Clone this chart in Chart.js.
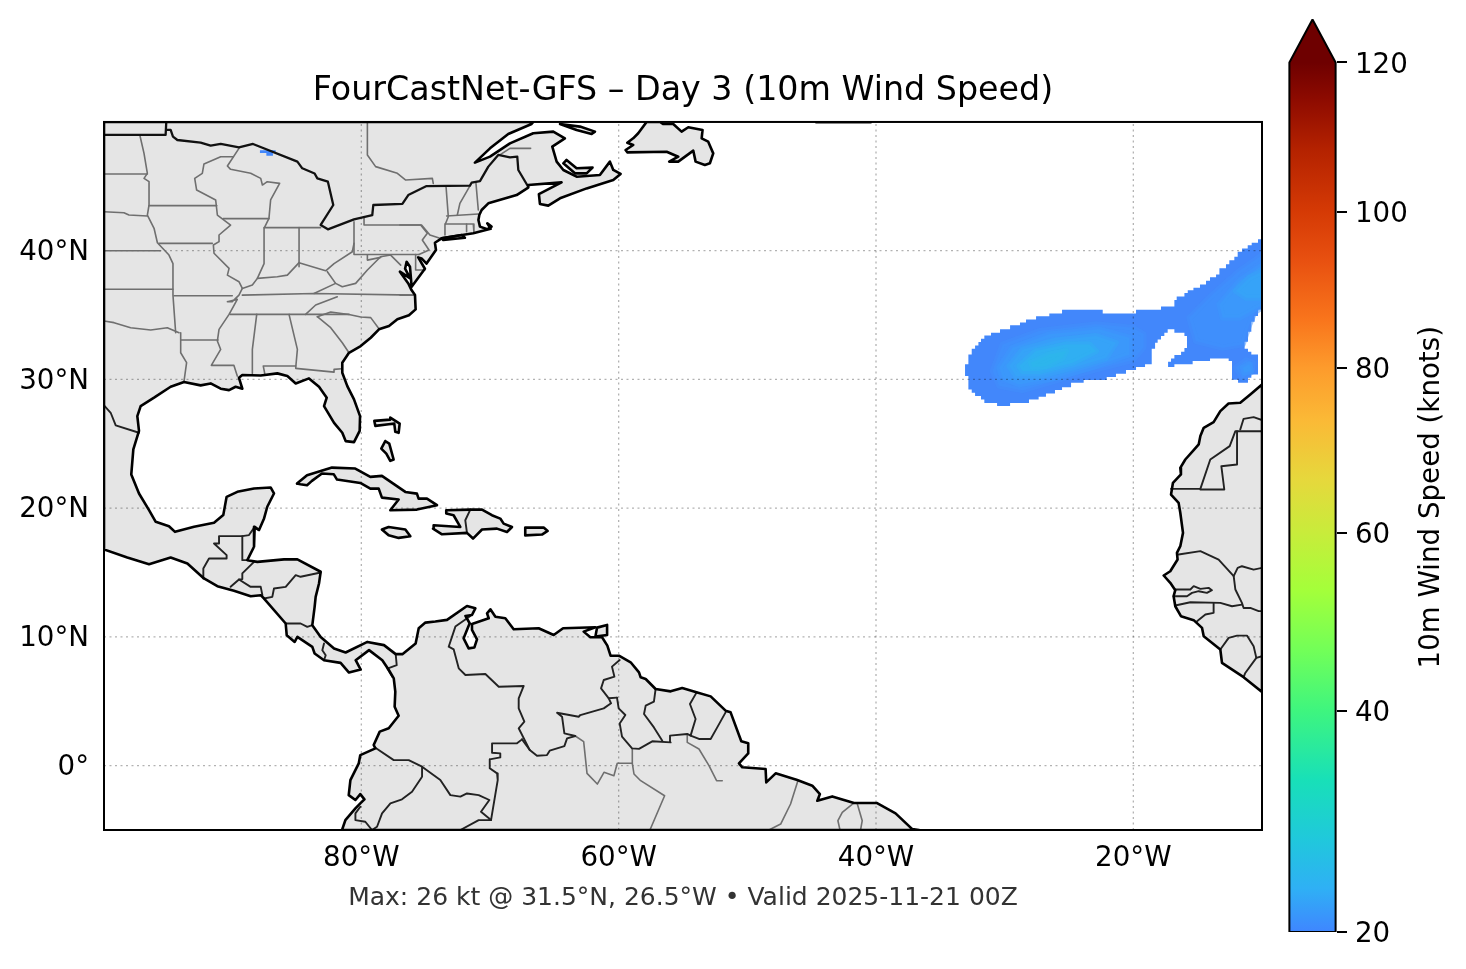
<!DOCTYPE html>
<html>
<head>
<meta charset="utf-8">
<title>FourCastNet-GFS</title>
<script src="https://cdn.jsdelivr.net/npm/chart.js@4"></script>
<style>
	html, body { margin: 0; padding: 0; background: #fff; overflow: hidden; }
	#map { position: absolute; left: 0; top: 0; }
	#bar { position: absolute; left: 1280px; top: 0; }
</style>
</head>
<body>
<canvas id="map" width="1466" height="969"></canvas>
<canvas id="bar" width="186" height="969"></canvas>
<script>
var lonTicks = [-80, -60, -40, -20];
var latTicks = [0, 10, 20, 30, 40];

// colorbar ticks, position is the fraction of the way up the bar
var barLabels = [20, 40, 60, 80, 100, 120];
var barTickPos = [0, 0.2543, 0.4589, 0.649, 0.8285, 1];
var barApex = 1.0495;
var barOutline = [[0, 0], [0, 1], [0.5, barApex], [1, 1], [1, 0], [0, 0]];
var barStopPos = [0, 0.05, 0.106, 0.175, 0.254, 0.324, 0.393, 0.459, 0.52, 0.589, 0.649, 0.704, 0.773, 0.8285, 0.9, 0.957, 1];
var barStopColors = ['#3f86ff', '#2fb0f5', '#20c8dc', '#18e0b8', '#3ef57f', '#72ff58', '#a4ff3a', '#c8ec3b', '#e6d83c', '#fbb936', '#fd9b2c', '#f9751c', '#e85010', '#d53a05', '#b42200', '#8e0b00', '#6e0000'];

// land, [lon, lat]
var americas = [
	[-100, 50], [-66.64, 50], [-66.77, 49.84], [-68.58, 49.07], [-70.0, 47.95], [-71.17, 46.84], [-70.0, 47.31], [-68.45, 48.34],
	[-66.64, 49.12], [-65.08, 49.25], [-64.18, 48.73], [-65.16, 48.08], [-64.82, 46.92], [-64.3, 46.27], [-63.27, 45.75], [-61.46, 45.88],
	[-60.68, 46.92], [-60.42, 46.27], [-59.85, 45.96], [-60.42, 45.49], [-62.49, 44.84], [-64.56, 44.07], [-65.47, 43.5], [-66.12, 43.63],
	[-66.2, 44.4], [-64.44, 45.31], [-67.03, 45.1], [-67.03, 44.9], [-67.93, 44.32], [-70.13, 43.68], [-70.65, 43.16], [-70.83, 42.77],
	[-70.9, 42.38], [-70.78, 41.87], [-70.21, 41.66], [-69.88, 41.87], [-70.21, 42.12], [-69.95, 41.7], [-71.3, 41.35], [-73.76, 40.96],
	[-74.28, 40.62], [-74.2, 40.05], [-74.93, 39.0], [-75.32, 39.4], [-75.58, 39.48], [-75.06, 38.6], [-76.09, 37.2], [-76.22, 38.76],
	[-76.48, 39.14], [-76.6, 38.6], [-76.2, 37.85], [-77, 38.37], [-76.35, 37.46], [-76.1, 36.94], [-75.83, 36.55], [-75.78, 35.44],
	[-76.3, 34.98], [-77.2, 34.67], [-77.85, 34.15], [-78.63, 33.89], [-79.27, 33.24], [-80.05, 32.59], [-80.96, 32.07], [-81.48, 31.3],
	[-81.48, 30.52], [-81.09, 29.48], [-80.57, 28.45], [-80.1, 27.15], [-80.13, 26.0], [-80.57, 25.13], [-81.22, 25.21], [-81.48, 25.86],
	[-82.12, 26.63], [-82.9, 27.93], [-82.69, 28.58], [-83.29, 29.43], [-84.07, 30.08], [-85.1, 29.69], [-85.75, 30.26], [-86.53, 30.47],
	[-87.82, 30.31], [-89.25, 30.34], [-89.51, 30.13], [-89.25, 29.28], [-89.77, 29.43], [-90.28, 29.17], [-90.93, 29.28], [-91.71, 29.69],
	[-92.49, 29.54], [-93.78, 29.8], [-94.82, 29.43], [-96.11, 28.58], [-97.15, 27.93], [-97.41, 27.15], [-97.28, 26.0], [-97.72, 24.56],
	[-97.88, 22.62], [-97.28, 21.14], [-96.5, 19.85], [-95.98, 18.94], [-94.95, 18.6], [-94.48, 18.16], [-93.0, 18.55], [-91.45, 18.86],
	[-90.73, 19.46], [-90.47, 20.88], [-89.64, 21.27], [-88.34, 21.53], [-87.05, 21.61], [-86.79, 21.14], [-87.31, 20.11], [-87.56, 19.2],
	[-87.95, 18.3], [-88.29, 18.55], [-88.34, 17.0], [-88.86, 15.96], [-88.08, 15.83], [-86.01, 16.02], [-84.97, 16.02], [-83.16, 15.06],
	[-83.29, 14.15], [-83.55, 13.11], [-83.63, 12.34], [-83.81, 10.91], [-83.16, 10.0], [-82.12, 9.1], [-81.22, 8.79], [-79.53, 9.61],
	[-78.24, 9.36], [-77.33, 8.66], [-76.81, 8.66], [-75.78, 9.49], [-75.54, 10.67], [-75.02, 11.11], [-74.25, 11.19], [-73.34, 11.32],
	[-71.79, 12.4], [-71.14, 12.22], [-71.4, 11.7], [-71.91, 11.63], [-71.58, 11.06], [-72.05, 9.89], [-71.66, 9.11], [-71.22, 9.17],
	[-71.01, 9.81], [-71.4, 10.54], [-71.4, 11.0], [-70.1, 11.45], [-70.23, 11.83], [-69.97, 12.14], [-69.58, 11.57], [-68.81, 11.45],
	[-68.16, 10.59], [-66.22, 10.67], [-65.05, 10.15], [-64.32, 10.67], [-61.81, 10.75], [-62.72, 10.41], [-62.2, 9.97], [-61.29, 9.97],
	[-60.88, 9.32], [-60.63, 8.54], [-59.98, 8.54], [-59.07, 8.03], [-58.42, 7.25], [-58.29, 6.86], [-57.9, 6.73], [-57.13, 5.95],
	[-55.96, 5.77], [-55.06, 6.03], [-53.89, 5.69], [-52.85, 5.38], [-51.69, 4.27], [-51.3, 4.14], [-50.47, 1.89], [-49.93, 1.73],
	[-49.93, 0.95], [-50.65, 0.18], [-50.39, -0.13], [-48.58, -0.26], [-48.53, -1.3], [-47.8, -0.6], [-46.12, -1.12], [-44.95, -1.56],
	[-44.36, -2.21], [-44.56, -2.73], [-43.4, -2.39], [-41.71, -2.9], [-39.95, -2.9], [-38.48, -3.71], [-37.18, -4.93], [-36.66, -5],
	[-81.5, -5], [-81.24, -4.23], [-80.46, -3.32], [-80.08, -2.93], [-79.76, -2.62], [-80.08, -2.21], [-80.46, -2.67], [-80.98, -2.29],
	[-80.85, -1.12], [-80.2, 0.18], [-80.08, 0.82], [-78.91, 1.34], [-79.04, 1.6], [-78.57, 2.64], [-77.87, 2.9], [-77.1, 3.88],
	[-77.41, 4.58], [-77.36, 5.75], [-77.48, 6.78], [-77.85, 7.41], [-78.37, 8.19], [-79.4, 8.97], [-80.44, 8.19], [-80.05, 7.46],
	[-80.96, 7.23], [-81.61, 7.98], [-82.9, 8.19], [-83.63, 8.71], [-83.81, 9.23], [-84.97, 10.0], [-85.18, 9.61], [-85.8, 10.13],
	[-85.88, 11.04], [-87.56, 12.98], [-87.82, 13.24], [-88.6, 13.16], [-89.9, 13.58], [-91.19, 13.94], [-92.23, 14.54], [-93.52, 15.7],
	[-94.82, 16.17], [-96.5, 15.65], [-98.19, 16.17], [-100, 16.79], [-100, 50]
];
var africa = [
	[-10, 29.61], [-10.91, 28.83], [-11.69, 28.19], [-12.6, 28.13], [-13.24, 27.54], [-13.76, 26.68], [-14.53, 26.24], [-14.79, 25.6],
	[-14.92, 24.95], [-15.31, 24.51], [-15.96, 23.78], [-16.35, 23.13], [-16.3, 22.62], [-16.92, 21.97], [-17.07, 21.06], [-16.48, 20.41],
	[-16.35, 19.64], [-16.14, 18.08], [-16.35, 17.05], [-16.61, 16.53], [-16.56, 16.01], [-17.13, 15.1], [-17.64, 14.77], [-17.13, 14.2],
	[-16.74, 13.63], [-16.87, 13.16], [-16.74, 12.38], [-16.3, 11.61], [-15.31, 11.3], [-14.66, 10.7], [-14.53, 10.05], [-13.24, 9.02],
	[-13.11, 7.98], [-11.43, 6.87], [-10, 5.72], [-10, 29.61]
];
var newfoundland = [
	[-57.83, 50], [-58.48, 49.12], [-58.87, 48.73], [-59.33, 48.39], [-58.87, 48.21], [-59.46, 47.82], [-59.33, 47.64], [-56.27, 47.69],
	[-55.37, 47.3], [-56.07, 46.92], [-55.37, 46.92], [-54.2, 47.77], [-54.02, 46.92], [-53.3, 46.66], [-52.91, 46.79], [-52.65, 47.56],
	[-53.04, 48.47], [-53.55, 48.73], [-53.48, 49.38], [-54.59, 49.59], [-55.11, 49.25], [-55.76, 49.84], [-56.53, 49.84], [-56.79, 50], [-57.83, 50]
];
var anticosti = [[-64.56, 49.84], [-63.01, 49.64], [-61.84, 49.25], [-62.1, 49.07], [-63.27, 49.38], [-64.56, 49.84]];
var pei = [[-64.3, 46.79], [-64.05, 47.05], [-63.27, 46.4], [-62.03, 46.45], [-62.49, 46.01], [-63.4, 46.01], [-64.3, 46.79]];
var longIsland = [[-73.76, 40.96], [-72.21, 41.22], [-71.95, 41.0], [-73.63, 40.83], [-73.76, 40.96]];
var bahamasNorth = [[-78.99, 26.78], [-77.75, 26.88], [-77.75, 27.04], [-77.02, 26.57], [-77.1, 25.85], [-77.36, 25.93], [-77.44, 26.57], [-77.88, 26.52], [-78.91, 26.39], [-78.99, 26.78]];
var andros = [[-78.14, 25.2], [-77.83, 25.02], [-77.49, 23.78], [-77.75, 23.67], [-78.06, 24.24], [-78.45, 24.63], [-78.14, 25.2]];
var cuba = [
	[-85.0, 21.91], [-84.22, 22.56], [-82.28, 23.15], [-80.47, 23.08], [-79.3, 22.43], [-78.4, 22.51], [-76.58, 21.26], [-75.68, 21.13],
	[-75.55, 20.74], [-74.9, 20.74], [-74.12, 20.23], [-75.68, 19.89], [-77.75, 19.84], [-77.1, 20.67], [-78.4, 20.82], [-78.65, 21.52],
	[-79.3, 21.52], [-80.08, 21.96], [-81.89, 22.22], [-82.15, 22.64], [-83.06, 22.69], [-83.84, 22.12], [-84.22, 21.78], [-84.74, 21.86], [-85.0, 21.91]
];
var jamaica = [[-78.4, 18.34], [-77.88, 18.54], [-76.58, 18.34], [-76.19, 17.82], [-77.1, 17.69], [-77.88, 17.89], [-78.4, 18.34]];
var hispaniola = [
	[-73.4, 19.84], [-71.53, 19.89], [-70.62, 19.89], [-69.85, 19.45], [-69.2, 19.19], [-68.94, 18.8], [-68.29, 18.54], [-68.68, 18.15],
	[-69.46, 18.41], [-70.62, 18.34], [-71.32, 17.64], [-71.79, 18.08], [-73.73, 17.97], [-74.43, 18.41], [-74.38, 18.67], [-72.31, 18.54],
	[-72.83, 19.45], [-73.4, 19.58], [-73.4, 19.84]
];
var puertoRico = [[-67.26, 18.49], [-65.83, 18.49], [-65.52, 18.23], [-65.96, 17.95], [-67.26, 17.89], [-67.26, 18.49]];
var trinidad = [[-61.68, 10.72], [-60.9, 10.93], [-60.9, 10.15], [-61.81, 10.02], [-61.68, 10.72]];
var landShapes = [americas, africa, newfoundland, anticosti, pei, longIsland, bahamasNorth, andros, cuba, jamaica, hispaniola, puertoRico, trinidad];

// lakes border and Maine, same weight as the coast
var usCanada = [
	[[-100, 49], [-95.21, 49], [-95.16, 50]],
	[[-95.16, 49.38], [-94.82, 49.38], [-94.64, 48.86], [-94.3, 48.6], [-92.49, 48.39], [-91.71, 48.16], [-90.93, 48.29], [-89.51, 48.03],
		[-88.42, 48.29], [-84.97, 46.92], [-84.59, 46.4], [-83.63, 46.0], [-83.42, 45.62], [-82.6, 45.36], [-82.18, 43.55], [-83.16, 42.0],
		[-82.6, 41.66], [-80.57, 42.43], [-79.15, 42.77], [-79.07, 43.55], [-76.81, 43.63], [-76.35, 44.32], [-74.93, 45.02], [-71.56, 45.05],
		[-71.43, 45.28], [-70.78, 45.41], [-70.13, 46.53], [-69.36, 47.44], [-68.45, 47.25], [-67.88, 47.3], [-67.8, 46.27], [-67.03, 44.97]],
	[[-44.66, 49.96], [-40.4, 49.96]]
];

var countryLines = [
	[[-100, 27.98], [-99.48, 27.41], [-99.09, 26.43], [-97.28, 25.86]],
	[[-92.23, 14.54], [-92.28, 15.31], [-91.84, 16.09], [-90.47, 16.09], [-90.47, 16.35], [-91.45, 17.26], [-91.06, 17.26], [-91.06, 17.83], [-89.25, 17.83], [-89.25, 15.96], [-88.86, 15.96]],
	[[-89.25, 17.83], [-88.73, 17.91], [-88.34, 18.47], [-87.95, 18.3]],
	[[-88.34, 15.83], [-89.25, 14.93], [-89.25, 14.49], [-89.51, 14.46], [-90.16, 13.89]],
	[[-89.51, 14.46], [-88.6, 13.89], [-87.82, 13.89], [-87.69, 13.24]],
	[[-83.16, 15.0], [-84.72, 14.67], [-85.1, 14.8], [-85.88, 13.89], [-86.79, 13.76], [-86.92, 13.11], [-87.56, 12.98]],
	[[-85.88, 11.04], [-84.72, 11.04], [-84.2, 10.78], [-83.81, 10.91]],
	[[-82.9, 9.49], [-83.03, 8.97], [-82.77, 8.58], [-82.9, 8.19]],
	[[-77.33, 8.66], [-77.25, 7.8], [-77.98, 7.54], [-77.59, 6.9]],
	[[-71.53, 19.89], [-71.92, 19.06], [-71.79, 18.08]],
	// Colombia, Venezuela, Guianas
	[[-71.53, 11.63], [-72.69, 10.8], [-73.21, 9.24], [-72.82, 9.03], [-72.43, 7.56], [-71.91, 7.04], [-70.36, 7.12], [-69.32, 6.13], [-67.38, 6.19], [-67.77, 5.23], [-67.77, 4.45], [-67.33, 3.41], [-67.77, 2.9], [-66.91, 1.21]],
	[[-67.51, 2.04], [-67.9, 1.73], [-69.84, 1.73], [-69.84, 1.0], [-69.2, 0.95], [-69.2, 0.64], [-70.02, 0.49], [-70.02, -0.21], [-69.45, -0.6], [-69.4, -1.12], [-69.92, -4.23]],
	[[-67.51, 2.04], [-66.91, 1.21], [-66.35, 0.77], [-65.57, 0.82], [-65.36, 1.16], [-64.22, 1.52], [-64.01, 2.12], [-63.37, 2.3], [-64.22, 2.51], [-64.4, 3.8], [-64.79, 4.11], [-63.11, 3.8], [-62.98, 3.93], [-61.16, 4.45], [-60.59, 4.84], [-60.77, 5.23], [-60.13, 5.28]],
	[[-59.92, 8.2], [-60.52, 7.69], [-60.33, 6.91], [-61.16, 6.65], [-61.37, 6.0], [-60.77, 5.23]],
	[[-60.13, 5.28], [-60.0, 4.45], [-59.48, 3.93], [-59.92, 3.28], [-59.74, 2.25], [-58.96, 1.34], [-58.42, 1.3], [-57.39, 1.89], [-55.96, 1.81], [-56.01, 2.33], [-54.67, 2.46], [-54.41, 2.33], [-53.76, 2.07], [-52.85, 2.07], [-52.34, 2.97], [-51.69, 4.14]],
	[[-57.13, 5.95], [-57.26, 4.97], [-57.9, 4.66], [-58.03, 4.01], [-57.26, 2.97], [-56.61, 1.94]],
	[[-53.94, 5.69], [-54.46, 4.79], [-54.02, 3.62], [-54.41, 2.33]],
	// Ecuador, Peru
	[[-78.91, 1.39], [-77.48, 0.43], [-76.32, 0.43], [-75.28, -0.08], [-73.86, -1.12], [-73.08, -2.29], [-72.3, -2.41], [-71.79, -2.16], [-70.88, -2.29], [-70.05, -2.67], [-70.7, -3.58], [-69.92, -4.23], [-70.88, -4.23], [-72.3, -5]],
	[[-75.28, -0.08], [-75.28, -0.86], [-76.06, -2.03], [-76.84, -2.62], [-77.74, -2.93], [-78.39, -3.71], [-78.78, -4.75], [-79.17, -5], [-79.69, -4.36], [-80.46, -4.23], [-80.46, -3.71], [-80.08, -3.19]],
	// West Africa
	[[-17.07, 21.5], [-14.79, 21.5], [-14.02, 23.78], [-12.51, 24.82], [-12.07, 25.98], [-10, 25.98]],
	[[-11.69, 26.11], [-11.43, 26.94], [-10.65, 27.07], [-10, 26.84]],
	[[-14.79, 21.45], [-12.93, 21.45], [-13.16, 23.26], [-11.94, 23.39], [-11.94, 25.98]],
	[[-16.48, 16.4], [-14.79, 16.66], [-13.37, 16.01], [-12.2, 14.72], [-11.89, 15.36], [-11.56, 15.49], [-10.65, 15.23], [-10, 15.36]],
	[[-12.2, 14.72], [-12.07, 13.68], [-11.56, 12.64], [-11.43, 12.25], [-10.91, 12.25], [-10.26, 12.0], [-10, 12.0]],
	[[-16.74, 13.68], [-15.57, 13.68], [-15.31, 13.94], [-14.79, 13.73], [-14.15, 13.81], [-13.89, 13.63], [-14.28, 13.42], [-14.92, 13.55], [-15.44, 13.42], [-15.83, 13.16], [-16.87, 13.16]],
	[[-16.74, 12.44], [-15.57, 12.69], [-13.24, 12.64], [-12.33, 12.38], [-11.56, 12.51]],
	[[-13.76, 12.59], [-13.76, 11.87], [-14.4, 11.74], [-15.05, 11.22]],
	[[-13.24, 9.02], [-12.59, 9.92], [-11.94, 10.1], [-11.17, 10.1], [-10.65, 9.27], [-10.44, 8.37], [-10, 8.5]],
	[[-10.44, 8.37], [-11.3, 7.2], [-11.43, 6.87]]
];

// states and provinces
var stateLines = [
	[[-97.2, 48.91], [-96.89, 47.56], [-96.63, 46.01], [-96.89, 45.62], [-96.5, 45.36], [-96.5, 43.55], [-96.63, 42.77], [-96.11, 41.74], [-95.85, 40.62], [-94.95, 39.66], [-94.64, 39.0], [-94.64, 36.55], [-94.43, 33.63]],
	[[-100, 45.96], [-96.63, 45.96]],
	[[-100, 43.03], [-98.45, 42.95], [-98.06, 42.77], [-96.63, 42.69]],
	[[-100, 40.0], [-95.6, 40.0]],
	[[-100, 37.0], [-94.64, 37.0]],
	[[-96.5, 43.5], [-91.24, 43.5]],
	[[-95.73, 40.57], [-91.58, 40.57]],
	[[-89.95, 47.3], [-90.93, 47.3], [-92.23, 46.74], [-92.36, 46.01], [-92.95, 45.62], [-92.8, 44.71], [-91.32, 43.94], [-91.19, 42.77], [-90.16, 41.99], [-91.06, 41.22], [-91.06, 40.7], [-91.5, 40.44], [-91.45, 39.8], [-90.28, 38.63], [-90.41, 38.1], [-89.51, 37.59], [-89.25, 37.07], [-89.51, 36.55], [-90.03, 36.04], [-90.41, 36.04], [-89.64, 36.22], [-90.28, 35.05], [-91.06, 33.89], [-91.19, 32.98], [-90.93, 32.33], [-91.66, 31.09], [-89.9, 31.09], [-89.64, 30.26]],
	[[-89.51, 47.95], [-90.41, 46.58], [-90.16, 46.32], [-88.6, 46.01], [-87.82, 45.62], [-87.69, 45.1], [-87.31, 45.36], [-86.35, 45.23], [-87.05, 43.94], [-87.18, 42.51], [-87.56, 41.73], [-87.56, 39.0], [-88.08, 37.85], [-88.47, 37.33], [-89.25, 37.07]],
	[[-90.73, 42.49], [-87.18, 42.49]],
	[[-87.56, 41.79], [-83.16, 41.79]],
	[[-84.84, 41.79], [-84.84, 38.76]],
	[[-88.08, 37.85], [-86.53, 37.98], [-85.75, 38.1], [-84.84, 39.07], [-83.94, 38.8], [-82.77, 38.44], [-82.12, 39.0], [-80.7, 39.92], [-80.57, 40.57]],
	[[-80.57, 42.25], [-80.57, 39.71], [-75.52, 39.71]],
	[[-79.79, 42.64], [-79.79, 42.0], [-75.39, 42.0], [-74.87, 41.35], [-75.26, 40.83], [-74.74, 40.05], [-75.52, 39.71]],
	[[-75.78, 39.71], [-75.78, 38.5], [-75.06, 38.5]],
	[[-82.64, 38.37], [-82.0, 37.46], [-81.48, 37.2], [-80.44, 37.46], [-79.53, 38.5], [-78.5, 39.53], [-77.72, 39.66], [-76.94, 38.88]],
	[[-79.53, 39.66], [-79.53, 39.27], [-78.5, 39.48]],
	[[-89.25, 36.55], [-83.68, 36.68], [-75.9, 36.55]],
	[[-83.68, 36.68], [-82.0, 37.46]],
	[[-84.33, 35.05], [-83.55, 35.78], [-81.87, 36.42]],
	[[-90.2, 35.05], [-80.96, 35.05]],
	[[-83.42, 34.87], [-82.38, 35.24], [-80.96, 35.05], [-80.05, 34.85], [-79.27, 34.8], [-78.63, 33.94]],
	[[-83.42, 34.87], [-82.38, 34.02], [-81.48, 32.85], [-80.96, 32.07]],
	[[-88.13, 35.05], [-88.47, 32.33], [-88.47, 30.47]],
	[[-85.62, 35.05], [-84.97, 32.33], [-85.1, 30.91]],
	[[-87.51, 30.47], [-87.62, 31.04], [-85.1, 31.04]],
	[[-85.1, 30.86], [-82.12, 30.57], [-82.12, 30.78], [-81.55, 30.83]],
	[[-94.04, 33.06], [-91.14, 33.06]],
	[[-94.04, 33.63], [-94.04, 32.07], [-93.58, 31.3], [-93.78, 29.87]],
	[[-100, 34.54], [-99.22, 34.41], [-97.93, 34.02], [-96.37, 33.84], [-95.08, 34.02], [-94.17, 33.63]],
	[[-94.56, 36.5], [-90.03, 36.5]],
	[[-73.42, 45.03], [-73.24, 42.64], [-73.5, 42.0], [-73.5, 41.22]],
	[[-71.56, 45.03], [-72.34, 43.68], [-72.54, 42.77]],
	[[-71.09, 45.23], [-70.91, 43.16]],
	[[-73.37, 42.69], [-70.91, 42.85]],
	[[-73.5, 42.07], [-71.3, 42.07], [-71.25, 41.47]],
	[[-71.82, 42.07], [-71.82, 41.47]],
	[[-77, 42.0], [-75.32, 42.0], [-74.67, 41.22], [-73.89, 40.96]],
	[[-77, 36.55], [-75.96, 36.55]],
	[[-79.53, 50], [-79.53, 47.44], [-78.89, 46.53], [-77.2, 46.01], [-76.55, 45.49], [-74.48, 45.62], [-74.41, 45.23]],
	[[-69.23, 47.44], [-68.45, 47.95], [-66.84, 47.95]],
	// Brazil states
	[[-54.67, 2.33], [-54.67, 1.81], [-53.76, 1.29], [-52.98, 0], [-52.39, -1.17], [-51.95, -1.17]],
	[[-58.94, 1.3], [-58.94, 0.18], [-60.11, 0.18], [-60.37, -0.78], [-61.14, -0.52], [-61.66, -1.43], [-62.46, -0.6], [-62.72, 1.86], [-63.37, 2.3]],
	[[-58.94, 0.18], [-58.81, -0.65], [-58.29, -1.17], [-56.43, -2.34], [-57.57, -5]],
	[[-46.07, -1.17], [-46.64, -2.98], [-47.41, -4.54], [-48.32, -5]],
	[[-41.71, -2.9], [-42.62, -3.63], [-42.96, -4.28], [-42.8, -5]],
	[[-41.45, -2.98], [-41.07, -4.28], [-41.2, -5]]
];

// wind field above 20 kt: outline of the cells, then lighter bands inside it
var windOutline = [
	[-33.08, 31.17], [-32.82, 31.94], [-32.56, 32.38], [-32.3, 32.64], [-32.04, 32.9], [-31.84, 33.16], [-31.58, 33.42], [-31.06, 33.63],
	[-30.36, 33.89], [-29.58, 34.2], [-28.81, 34.43], [-28.34, 34.66], [-27.56, 34.9], [-26.53, 35.13], [-25.54, 35.42], [-22.38, 35.42],
	[-22.38, 35.13], [-19.79, 35.13], [-19.79, 35.42], [-17.85, 35.42], [-17.85, 35.67], [-17.07, 35.67], [-16.81, 36.17], [-16.63, 36.45],
	[-16.03, 36.71], [-15.77, 36.92], [-15.33, 37.12], [-14.82, 37.38], [-14.35, 37.67], [-14.04, 37.93], [-13.57, 38.16], [-13.31, 38.63],
	[-12.8, 38.94], [-12.54, 39.25], [-12.15, 39.53], [-11.89, 39.92], [-11.55, 40.18], [-11.11, 40.42], [-10.8, 40.62], [-10.31, 40.88],
	[-9.9, 40.88], [-9.9, 35.44], [-10.31, 35.44], [-10.31, 34.92], [-10.57, 34.48], [-10.83, 33.71], [-11.09, 32.93], [-11.35, 32.38],
	[-11.09, 32.15], [-10.83, 31.94], [-10.31, 31.94], [-10.31, 30.39], [-10.83, 30.13], [-11.09, 29.74], [-11.86, 29.74], [-11.86, 29.97],
	[-12.33, 29.97], [-12.33, 31.43], [-12.59, 31.63], [-14.04, 31.63], [-14.04, 31.43], [-15.39, 31.43], [-15.39, 31.17], [-16.81, 31.17],
	[-16.81, 30.96], [-17.3, 30.96], [-17.3, 31.37], [-17.07, 31.63], [-16.81, 31.89], [-16.29, 32.15], [-16.03, 32.44], [-15.83, 32.69],
	[-15.83, 33.37], [-16.03, 33.63], [-16.81, 33.63], [-16.81, 33.89], [-17.33, 33.63], [-17.59, 33.37], [-17.85, 33.11], [-18.11, 32.85],
	[-18.31, 32.38], [-18.57, 31.94], [-18.57, 31.17], [-19.09, 31.17], [-19.09, 30.96], [-19.79, 30.96], [-19.79, 30.73], [-20.57, 30.73],
	[-20.57, 30.44], [-21.35, 30.44], [-21.35, 30.18], [-22.07, 30.18], [-22.07, 29.95], [-23.86, 29.95], [-23.86, 29.74], [-24.84, 29.74],
	[-24.84, 29.4], [-25.54, 29.4], [-25.54, 29.17], [-26.09, 29.17], [-26.09, 28.91], [-26.79, 28.91], [-26.79, 28.65], [-27.36, 28.65],
	[-27.36, 28.45], [-28.11, 28.45], [-28.11, 28.16], [-29.58, 28.16], [-29.58, 27.93], [-30.59, 27.93], [-30.59, 28.16], [-31.58, 28.16],
	[-31.58, 28.45], [-31.84, 28.71], [-32.3, 28.96], [-32.56, 29.22], [-32.82, 29.74], [-32.82, 30.26], [-33.08, 30.52]
];
var lakeSpot = [[-87.88, 47.8], [-86.66, 47.8], [-86.66, 47.59], [-86.87, 47.59], [-86.87, 47.38], [-87.38, 47.38], [-87.38, 47.59], [-87.88, 47.59]];
var windOuterColor = '#4287fb';
var windBandColors = ['#3f8ffc', '#3b98fb', '#36a3f8', '#30aff2', '#2db5ec'];
var windBands = [
	[[[-30.93, 30.65], [-30.15, 32.72], [-27.3, 33.76], [-22.9, 34.28], [-20.05, 34.02], [-19.2, 33.5], [-19.2, 32.5], [-20.05, 31.5], [-22.64, 30.85], [-25.49, 30.07], [-28.6, 29.16], [-30.41, 29.5]],
		[[-15.65, 34.79], [-13.83, 36.6], [-11.76, 38.42], [-9.9, 39.72], [-9.9, 35.7], [-10.6, 35.2], [-10.98, 34.28], [-11.5, 32.72], [-13.05, 32.46], [-15.13, 32.98]],
		[[-12.02, 30.91], [-11.24, 31.5], [-10.7, 31.3], [-10.8, 30.6], [-11.5, 30.13]]],
	[[[-30.41, 30.91], [-29.38, 32.46], [-26.53, 33.5], [-22.64, 33.89], [-20.31, 33.24], [-20.31, 31.94], [-22.9, 31.04], [-26.01, 30.13], [-28.86, 29.61], [-30.15, 30.13]],
		[[-13.31, 35.83], [-11.76, 37.64], [-9.9, 38.94], [-9.9, 35.83], [-11.76, 34.79], [-13.05, 34.79]],
		[[-11.5, 30.91], [-10.98, 31.17], [-10.85, 30.65], [-11.37, 30.52]]],
	[[[-29.63, 31.04], [-28.6, 32.33], [-26.01, 33.03], [-22.9, 33.37], [-21.35, 32.85], [-22.12, 31.68], [-24.71, 30.91], [-27.3, 30.26], [-29.12, 30.26]],
		[[-12.02, 36.87], [-10.98, 37.9], [-9.9, 38.42], [-9.9, 36.35], [-11.24, 36.35]]],
	[[[-28.86, 31.04], [-27.56, 32.2], [-25.23, 32.72], [-23.42, 32.72], [-22.9, 32.2], [-24.71, 31.3], [-27.3, 30.65], [-28.6, 30.65]]],
	[[[-27.95, 31.3], [-26.53, 31.94], [-25.23, 32.2], [-25.49, 31.68], [-26.79, 31.04], [-27.82, 30.96]]]
];

var titleText = 'FourCastNet-GFS \u2013 Day 3 (10m Wind Speed)';
var footerText = 'Max: 26 kt @ 31.5\u00b0N, 26.5\u00b0W \u2022 Valid 2025-11-21 00Z';
var barTitle = '10m Wind Speed (knots)';

Chart.defaults.font.family = '"DejaVu Sans"';
Chart.defaults.color = '#000';
Chart.defaults.animation = false;

var lineSet = (points, opts) => Object.assign({
	data: points,
	pointRadius: 0,
	tension: 0,
	borderWidth: 0,
	fill: false,
	borderJoinStyle: 'round',
	borderCapStyle: 'round'
}, opts);

var gridOpts = { borderColor: 'rgba(0,0,0,0.3)', borderWidth: 1.3, borderDash: [2, 3.5], borderCapStyle: 'butt' };

// drawn in this order, the list is reversed before it goes to the chart
var layers = [];
landShapes.forEach(s => layers.push(lineSet(s, { fill: 'shape', backgroundColor: '#e5e5e5' })));
layers.push(lineSet(windOutline, { fill: 'shape', backgroundColor: windOuterColor, stepped: true }));
layers.push(lineSet(lakeSpot, { fill: 'shape', backgroundColor: windOuterColor }));
windBands.forEach((band, i) => band.forEach(s => layers.push(lineSet(s.concat([s[0]]), {
	fill: 'shape',
	backgroundColor: windBandColors[i],
	borderColor: windBandColors[i] + '80',
	borderWidth: 6
}))));
// the grid sits over land and wind but under the borders, so it is drawn as datasets
lonTicks.forEach(v => layers.push(lineSet([[v, -5], [v, 50]], gridOpts)));
latTicks.forEach(v => layers.push(lineSet([[-100, v], [-10, v]], gridOpts)));
stateLines.forEach(s => layers.push(lineSet(s, { borderColor: '#6f6f6f', borderWidth: 1.6 })));
countryLines.forEach(s => layers.push(lineSet(s, { borderColor: '#222', borderWidth: 1.9 })));
usCanada.forEach(s => layers.push(lineSet(s, { borderColor: '#111', borderWidth: 2.3 })));
landShapes.forEach(s => layers.push(lineSet(s, { borderColor: '#000', borderWidth: 2.6 })));

var framePlugin = {
	id: 'frame',
	afterDraw: (chart) => {
		var a = chart.chartArea;
		var ctx = chart.ctx;
		ctx.save();
		ctx.strokeStyle = '#000';
		ctx.lineWidth = 2;
		ctx.strokeRect(a.left, a.top, a.right - a.left, a.bottom - a.top);
		ctx.restore();
	}
};

new Chart(document.getElementById('map').getContext('2d'), {
	type: 'line',
	data: { datasets: layers.reverse() },
	plugins: [framePlugin],
	options: {
		responsive: false,
		layout: { padding: { left: 0, right: 204, top: 0, bottom: 0 } },
		plugins: {
			legend: { display: false },
			tooltip: { enabled: false },
			title: {
				display: true,
				text: titleText,
				fullSize: false,
				font: { size: 33.3, weight: 'normal' },
				padding: { top: 71, bottom: 11 }
			}
		},
		scales: {
			x: {
				type: 'linear',
				min: -100,
				max: -10,
				afterBuildTicks: (axis) => { axis.ticks = lonTicks.map(v => ({ value: v })); },
				afterFit: (axis) => { axis.height = 139; },
				ticks: {
					autoSkip: false,
					maxRotation: 0,
					padding: 12,
					font: { size: 27.7 },
					callback: (v) => Math.abs(v) + '\u00b0W'
				},
				grid: { display: false, drawTicks: false },
				border: { display: false },
				title: {
					display: true,
					text: footerText,
					color: '#333',
					font: { size: 25 },
					padding: { top: 0, bottom: 56 }
				}
			},
			y: {
				type: 'linear',
				min: -5,
				max: 50,
				afterBuildTicks: (axis) => { axis.ticks = latTicks.map(v => ({ value: v })); },
				afterFit: (axis) => { axis.width = 104; },
				ticks: {
					autoSkip: false,
					padding: 15,
					labelOffset: 2,
					font: { size: 27.7 },
					callback: (v) => v === 0 ? '0\u00b0' : v + '\u00b0N'
				},
				grid: { display: false, drawTicks: false },
				border: { display: false }
			}
		}
	}
});

var barGradient = (context) => {
	var chart = context.chart;
	if (!chart.chartArea) {
		return barStopColors[0];
	}
	var y = chart.scales.y;
	var g = chart.ctx.createLinearGradient(0, y.getPixelForValue(0), 0, y.getPixelForValue(1));
	barStopPos.forEach((p, i) => g.addColorStop(p, barStopColors[i]));
	return g;
};

var barTitlePlugin = {
	id: 'barTitle',
	afterDraw: (chart) => {
		var y = chart.scales.y;
		var ctx = chart.ctx;
		ctx.save();
		ctx.translate(152, (y.getPixelForValue(0) + y.getPixelForValue(1)) / 2);
		ctx.rotate(-Math.PI / 2);
		ctx.textAlign = 'center';
		ctx.textBaseline = 'middle';
		ctx.fillStyle = '#000';
		ctx.font = '27.7px "DejaVu Sans"';
		ctx.fillText(barTitle, 0, 0);
		ctx.restore();
	}
};

new Chart(document.getElementById('bar').getContext('2d'), {
	type: 'line',
	data: {
		datasets: [lineSet(barOutline, { fill: 'shape', backgroundColor: barGradient, borderColor: '#000', borderWidth: 2 })]
	},
	plugins: [barTitlePlugin],
	options: {
		responsive: false,
		layout: { padding: { left: 8, right: 0, top: 19, bottom: 37 } },
		plugins: { legend: { display: false }, tooltip: { enabled: false } },
		scales: {
			x: { type: 'linear', display: false, min: -0.03, max: 1.03 },
			y: {
				type: 'linear',
				position: 'right',
				min: 0,
				max: 1.05,
				afterBuildTicks: (axis) => { axis.ticks = barTickPos.map(v => ({ value: v })); },
				afterFit: (axis) => {
					axis.width = 129;
					axis.paddingTop = 0;
					axis.paddingBottom = 0;
				},
				ticks: {
					autoSkip: false,
					padding: 8,
					labelOffset: 3,
					font: { size: 27.7 },
					callback: (v) => barLabels[barTickPos.indexOf(v)]
				},
				grid: { drawOnChartArea: false, drawTicks: true, tickLength: 10, color: '#000', lineWidth: 2 },
				border: { display: false }
			}
		}
	}
});
</script>
</body>
</html>
